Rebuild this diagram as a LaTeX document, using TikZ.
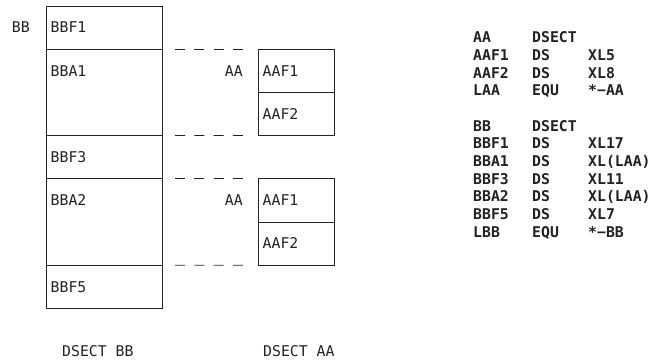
\documentclass[tikz,border=0pt]{standalone}
\usepackage{fontspec}
\setmonofont{DejaVu Sans Mono}
\usetikzlibrary{positioning,calc}
\definecolor{ink}{HTML}{222222}
\tikzset{
  cell/.style={
    draw=ink,
    line width=0.8pt,
    inner sep=0pt,
    outer sep=0pt,
    minimum width=116pt
  },
  celltext/.style={
    anchor=base west,
    inner sep=0pt,
    text=ink,
    font=\fontsize{14.8}{17}\selectfont\ttfamily
  },
  codetext/.style={celltext, font=\fontsize{14.8}{17}\selectfont\ttfamily\bfseries},
  dashline/.style={draw=ink, line width=0.8pt, dash pattern=on 10pt off 9.3pt}
}

\begin{document}
\begin{tikzpicture}[x=1pt,y=-1pt]
\useasboundingbox (0,0) rectangle (654,363);
% DSECT BB
\node[cell,anchor=north west,minimum height=43.2pt] (bbf1) at (46,6) {};
\node[cell,minimum height=86.4pt,below=0pt of bbf1] (bba1) {};
\node[cell,minimum height=43.2pt,below=0pt of bba1] (bbf3) {};
\node[cell,minimum height=86.4pt,below=0pt of bbf3] (bba2) {};
\node[cell,minimum height=43.2pt,below=0pt of bba2] (bbf5) {};
\node[celltext] (bbf1t) at ($(bbf1.north west)+(4.5,27)$) {BBF1};
\node[celltext] (bba1t) at ($(bba1.north west)+(4.5,27)$) {BBA1};
\node[celltext] (bbf3t) at ($(bbf3.north west)+(4.5,27)$) {BBF3};
\node[celltext] (bba2t) at ($(bba2.north west)+(4.5,27)$) {BBA2};
\node[celltext] (bbf5t) at ($(bbf5.north west)+(4.5,27)$) {BBF5};
\node[celltext,anchor=base east] (bbname) at ($(bbf1.north west)+(-16,27)$) {BB};
% DSECT AA, twice
\node[cell,anchor=north west,minimum width=76pt,minimum height=43.2pt] (aa1f1) at ($(bba1.north west)+(212,0)$) {};
\node[cell,minimum width=76pt,minimum height=43.2pt,below=0pt of aa1f1] (aa1f2) {};
\node[cell,anchor=north west,minimum width=76pt,minimum height=43.2pt] (aa2f1) at ($(bba2.north west)+(212,0)$) {};
\node[cell,minimum width=76pt,minimum height=43.2pt,below=0pt of aa2f1] (aa2f2) {};
\node[celltext] (aa1f1t) at ($(aa1f1.north west)+(4.5,27)$) {AAF1};
\node[celltext] (aa1f2t) at ($(aa1f2.north west)+(4.5,27)$) {AAF2};
\node[celltext] (aa2f1t) at ($(aa2f1.north west)+(4.5,27)$) {AAF1};
\node[celltext] (aa2f2t) at ($(aa2f2.north west)+(4.5,27)$) {AAF2};
\node[celltext,anchor=base east] (aa1name) at ($(aa1f1.north west)+(-15,27)$) {AA};
\node[celltext,anchor=base east] (aa2name) at ($(aa2f1.north west)+(-15,27)$) {AA};
\draw[dashline] ([xshift=13pt]bba1.north east) -- ([xshift=-15pt]aa1f1.north west);
\draw[dashline] ([xshift=13pt]bba1.south east) -- ([xshift=-15pt]aa1f2.south west);
\draw[dashline] ([xshift=13pt]bba2.north east) -- ([xshift=-15pt]aa2f1.north west);
\draw[dashline] ([xshift=13pt]bba2.south east) -- ([xshift=-15pt]aa2f2.south west);
% captions
\node[celltext] (bbcap) at ($(bbf5.south west)+(16,48.6)$) {DSECT BB};
\node[celltext] (aacap) at ($(aa2f2.south west)+(5,91.8)$) {DSECT AA};
% assembler source
\foreach \row/\lbl/\op/\arg in {0/AA/DSECT/,1/AAF1/DS/XL5,2/AAF2/DS/XL8,3/LAA/EQU/*−AA,
    5/BB/DSECT/,6/BBF1/DS/XL17,7/BBA1/DS/XL(LAA),8/BBF3/DS/XL11,9/BBA2/DS/XL(LAA),
    10/BBF5/DS/XL7,11/LBB/EQU/*−BB}{
  \node[codetext] (lbl\row) at (473,42.8+17.67*\row) {\lbl};
  \node[codetext] (op\row) at (532,42.8+17.67*\row) {\op};
  \node[codetext] (arg\row) at (588,42.8+17.67*\row) {\arg};
}
\end{tikzpicture}
\end{document}
